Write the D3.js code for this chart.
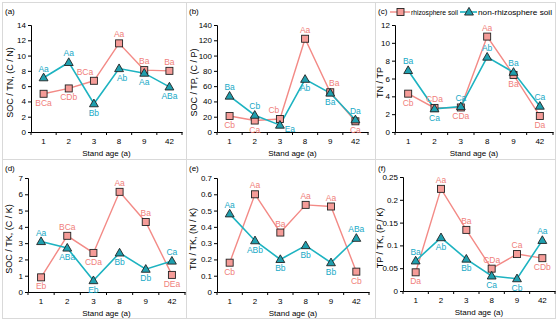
<!DOCTYPE html>
<html lang="en">
<head>
<meta charset="UTF-8">
<title>Stoichiometric ratios by stand age</title>
<script src="https://d3js.org/d3.v7.min.js"></script>
<style>
  body { margin: 0; background: #fff; }
  svg text { font-family: "Liberation Sans", Arial, sans-serif; }
</style>
</head>
<body>
<div id="chart"></div>
<script>
// categories
var ages = ["1", "2", "3", "8", "9", "42"];

// (a) SOC / TN
var socTnRhizo = [5.0, 5.7, 6.7, 11.6, 8.1, 8.0];
var socTnNon   = [7.1, 9.1, 3.7, 8.3, 7.7, 5.9];
var socTnRhizoLab = ["BCa", "CDb", "BCa", "Aa", "Ba", "Ba"];
var socTnNonLab   = ["Aa", "Aa", "Bb", "Ab", "Aa", "ABa"];

// (b) SOC / TP
var socTpRhizo = [21, 15, 17, 122, 52, 14];
var socTpNon   = [47, 22, 9, 69, 51, 16];
var socTpRhizoLab = ["Cb", "Ca", "Cb", "Aa", "Ba", "Ca"];
var socTpNonLab   = ["Ba", "Cb", "Ea", "Ab", "Ba", "Da"];

// (c) TN / TP
var tnTpRhizo = [4.3, 2.7, 2.75, 10.7, 6.4, 1.8];
var tnTpNon   = [6.9, 2.6, 2.85, 8.4, 6.7, 2.9];
var tnTpRhizoLab = ["Cb", "CDa", "CDa", "Aa", "Ba", "Da"];
var tnTpNonLab   = ["Ba", "Ca", "Ca", "Ab", "Ba", "Ca"];

// (d) SOC / TK
var socTkRhizo = [0.9, 3.45, 2.4, 6.15, 4.3, 1.05];
var socTkNon   = [3.1, 2.7, 0.7, 2.4, 1.4, 1.9];
var socTkRhizoLab = ["Eb", "BCa", "CDa", "Aa", "Ba", "DEa"];
var socTkNonLab   = ["Aa", "ABa", "Eb", "Bb", "Db", "Ca"];

// (e) TN / TK
var tnTkRhizo = [0.18, 0.60, 0.365, 0.535, 0.525, 0.125];
var tnTkNon   = [0.48, 0.315, 0.20, 0.285, 0.18, 0.33];
var tnTkRhizoLab = ["Cb", "Aa", "Ba", "Aa", "Aa", "Cb"];
var tnTkNonLab   = ["Aa", "ABb", "Bb", "Bb", "Bb", "ABa"];

// (f) TP / TK
var tpTkRhizo = [0.041, 0.224, 0.134, 0.049, 0.081, 0.072];
var tpTkNon   = [0.066, 0.117, 0.070, 0.033, 0.027, 0.111];
var tpTkRhizoLab = ["Da", "Aa", "Ba", "CDa", "Ca", "CDb"];
var tpTkNonLab   = ["Ba", "Ab", "Bb", "Ca", "Cb", "Aa"];

var seriesNames = ["rhizosphere soil", "non-rhizosphere soil"];

var redLine = "#f38a86", redFill = "#f59c98", redText = "#f0807b";
var tealLine = "#1db3c1", tealFill = "#1f9fae", tealText = "#17a9c6";

var width = 557, height = 321;
var svg = d3.select("#chart").append("svg")
    .attr("width", width)
    .attr("height", height);

// label side: 1 = above the marker, -1 = below; adj = hand nudges for crowded labels
var panels = [
  {tag: "(a)", title: "SOC / TN, (C / N)", max: 14, step: 2,
   r: socTnRhizo, n: socTnNon, rl: socTnRhizoLab, nl: socTnNonLab,
   rs: [-1, -1, 1, 1, 1, 1], ns: [1, 1, -1, -1, -1, -1],
   adj: {r2: [-9, 0], n3: [3, 0]},
   box: [2, 2, 186, 159], x0: 31, x1: 182, y0: 25, y1: 132, tx: 10},
  {tag: "(b)", title: "SOC / TP, (C / P)", max: 140, step: 20,
   r: socTpRhizo, n: socTpNon, rl: socTpRhizoLab, nl: socTpNonLab,
   rs: [-1, -1, 1, 1, 1, -1], ns: [1, 1, -1, -1, -1, 1],
   adj: {r2: [-6, 0], r4: [4, 0], n2: [10, -5]},
   box: [186, 2, 375, 159], x0: 217, x1: 368, y0: 25, y1: 132, tx: 194},
  {tag: "(c)", title: "TN / TP", max: 12, step: 2,
   r: tnTpRhizo, n: tnTpNon, rl: tnTpRhizoLab, nl: tnTpNonLab,
   rs: [-1, 1, -1, 1, -1, -1], ns: [1, -1, 1, 1, 1, 1],
   adj: {},
   box: [375, 2, 555, 159], x0: 395, x1: 553, y0: 25, y1: 132, tx: 380},
  {tag: "(d)", title: "SOC / TK, (C / K)", max: 7, step: 1,
   r: socTkRhizo, n: socTkNon, rl: socTkRhizoLab, nl: socTkNonLab,
   rs: [-1, 1, -1, 1, 1, -1], ns: [1, -1, -1, -1, -1, 1],
   adj: {},
   box: [2, 159, 186, 318], x0: 28, x1: 185, y0: 178, y1: 292, tx: 9},
  {tag: "(e)", title: "TN / TK, (N / K)", max: 0.7, step: 0.1,
   r: tnTkRhizo, n: tnTkNon, rl: tnTkRhizoLab, nl: tnTkNonLab,
   rs: [-1, 1, 1, 1, 1, -1], ns: [1, -1, -1, -1, -1, 1],
   adj: {},
   box: [186, 159, 375, 318], x0: 217, x1: 369, y0: 178, y1: 292, tx: 193},
  {tag: "(f)", title: "TP / TK, (P / K)", max: 0.25, step: 0.05,
   r: tpTkRhizo, n: tpTkNon, rl: tpTkRhizoLab, nl: tpTkNonLab,
   rs: [-1, 1, 1, 1, 1, -1], ns: [1, -1, -1, -1, -1, 1],
   adj: {},
   box: [375, 159, 555, 318], x0: 403, x1: 555, y0: 177, y1: 291, tx: 380}
];

var tri = d3.symbol().type(d3.symbolTriangle).size(34);

panels.forEach(function(p) {
  var g = svg.append("g");

  // light frame around each panel
  g.append("rect")
    .attr("x", p.box[0] + 0.5).attr("y", p.box[1] + 0.5)
    .attr("width", p.box[2] - p.box[0]).attr("height", p.box[3] - p.box[1])
    .attr("fill", "none").attr("stroke", "#d9d9d9");

  var x = d3.scaleBand().domain(ages).range([p.x0, p.x1]).padding(0);
  var y = d3.scaleLinear().domain([0, p.max]).range([p.y1, p.y0]);
  var cx = function(i) { return x(ages[i]) + x.bandwidth() / 2; };

  var ticks = d3.range(0, p.max + p.step / 2, p.step);
  var fmt = function(v) { return String(+v.toFixed(3)); };

  // y axis
  var ya = g.append("g").attr("transform", "translate(" + p.x0 + ",0)")
    .call(d3.axisLeft(y).tickValues(ticks).tickFormat(fmt).tickSize(3).tickPadding(2));
  ya.select(".domain").attr("stroke", "#000");
  ya.selectAll("line").attr("stroke", "#000");
  ya.selectAll("text").attr("font-size", 8).attr("fill", "#000")
    .attr("font-family", "Liberation Sans, Arial, sans-serif");

  // x axis with ticks between categories
  var xa = g.append("g").attr("transform", "translate(0," + p.y1 + ")")
    .call(d3.axisBottom(x).tickSize(0).tickPadding(6));
  xa.select(".domain").attr("stroke", "#000");
  xa.selectAll("text").attr("font-size", 8).attr("fill", "#000")
    .attr("font-family", "Liberation Sans, Arial, sans-serif");
  xa.selectAll(".sep").data(d3.range(ages.length + 1)).join("line")
    .attr("class", "sep")
    .attr("x1", function(i) { return p.x0 + i * x.bandwidth(); })
    .attr("x2", function(i) { return p.x0 + i * x.bandwidth(); })
    .attr("y1", 0).attr("y2", 3).attr("stroke", "#000");

  // titles
  g.append("text").attr("x", (p.x0 + p.x1) / 2).attr("y", p.y1 + 24)
    .attr("text-anchor", "middle").attr("font-size", 8).text("Stand age (a)");
  g.append("text")
    .attr("transform", "translate(" + (p.tx + 3) + "," + ((p.y0 + p.y1) / 2 + 4) + ") rotate(-90)")
    .attr("text-anchor", "middle").attr("font-size", 9).text(p.title);
  g.append("text").attr("x", p.box[0] + 3).attr("y", p.box[1] + 12)
    .attr("font-size", 8).text(p.tag);

  var line = d3.line().x(function(d, i) { return cx(i); }).y(function(d) { return y(d); });

  // rhizosphere series
  g.append("path").datum(p.r).attr("d", line)
    .attr("fill", "none").attr("stroke", redLine).attr("stroke-width", 1.4);
  // non-rhizosphere series
  g.append("path").datum(p.n).attr("d", line)
    .attr("fill", "none").attr("stroke", tealLine).attr("stroke-width", 1.6);

  g.selectAll(".sq").data(p.r).join("rect")
    .attr("x", function(d, i) { return cx(i) - 3.5; })
    .attr("y", function(d) { return y(d) - 3.5; })
    .attr("width", 7).attr("height", 7)
    .attr("fill", redFill).attr("stroke", "#222").attr("stroke-width", 0.9);

  g.selectAll(".tri").data(p.n).join("path")
    .attr("d", tri)
    .attr("transform", function(d, i) { return "translate(" + cx(i) + "," + (y(d) + 0.5) + ")"; })
    .attr("fill", tealFill).attr("stroke", "#222").attr("stroke-width", 0.9);

  // letter labels
  function addLabels(key, vals, labs, sides, color) {
    g.selectAll("." + key + "l").data(labs).join("text")
      .attr("x", function(d, i) { var a = p.adj[key + i]; return cx(i) + (a ? a[0] : 0); })
      .attr("y", function(d, i) {
        var a = p.adj[key + i];
        return y(vals[i]) + (sides[i] > 0 ? -6 : 12) + (a ? a[1] : 0);
      })
      .attr("text-anchor", "middle").attr("font-size", 8.5).attr("fill", color)
      .text(function(d) { return d; });
  }
  addLabels("r", p.r, p.rl, p.rs, redText);
  addLabels("n", p.n, p.nl, p.ns, tealText);
});

// legend in panel (c)
var lg = svg.append("g");
lg.append("line").attr("x1", 390).attr("x2", 410).attr("y1", 12).attr("y2", 12)
  .attr("stroke", redLine).attr("stroke-width", 1.4);
lg.append("rect").attr("x", 397).attr("y", 8.5).attr("width", 7).attr("height", 7)
  .attr("fill", redFill).attr("stroke", "#222").attr("stroke-width", 0.9);
lg.append("text").attr("x", 411).attr("y", 15).attr("font-size", 7.5)
  .attr("textLength", 47).attr("lengthAdjust", "spacingAndGlyphs").text(seriesNames[0]);
lg.append("line").attr("x1", 460).attr("x2", 477).attr("y1", 12).attr("y2", 12)
  .attr("stroke", tealLine).attr("stroke-width", 1.6);
lg.append("path").attr("d", tri).attr("transform", "translate(469,12.5)")
  .attr("fill", tealFill).attr("stroke", "#222").attr("stroke-width", 0.9);
lg.append("text").attr("x", 478).attr("y", 15).attr("font-size", 7.5)
  .attr("textLength", 74).attr("lengthAdjust", "spacingAndGlyphs").text(seriesNames[1]);
</script>
</body>
</html>
